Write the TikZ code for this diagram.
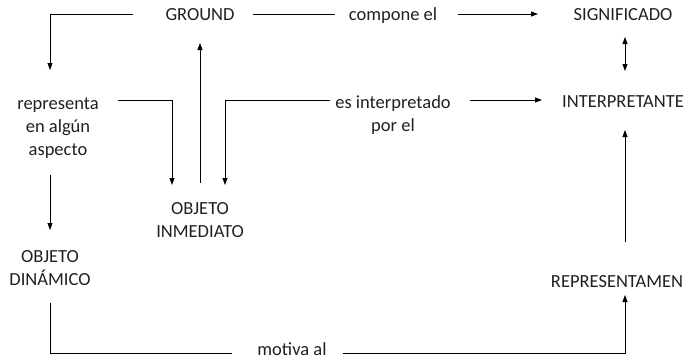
\documentclass[tikz,border=0pt]{standalone}
\usepackage{fontspec}
\setmainfont{Carlito}
\usetikzlibrary{arrows.meta}
\definecolor{txt}{HTML}{231F20}
\tikzset{
  lbl/.style={anchor=base, inner sep=0pt, text=txt, font=\fontsize{18.5}{23}\selectfont, align=center},
  conn/.style={line width=0.8pt, black},
  arr/.style={conn, -{Triangle[length=7pt,width=5pt]}},
  darr/.style={conn, {Triangle[length=7pt,width=5pt]}-{Triangle[length=7pt,width=5pt]}}
}
\begin{document}
\begin{tikzpicture}[x=1pt,y=-1pt]
\useasboundingbox (0,0) rectangle (696,359);
% nodes (multi-line nodes are placed by the baseline of their last line)
\node[lbl] (ground) at (200,20) {GROUND};
\node[lbl] (compone) at (393,20) {compone el};
\node[lbl] (signif) at (623,20) {SIGNIFICADO};
\node[lbl] (interp) at (623,107) {INTERPRETANTE};
\node[lbl] (esint) at (393,131) {es interpretado\\por el};
\node[lbl] (repres) at (58,155) {representa\\en algún\\aspecto};
\node[lbl] (inmed) at (200,237) {OBJETO\\INMEDIATO};
\node[lbl] (dinam) at (50,285) {OBJETO\\DINÁMICO};
\node[lbl] (remen) at (617,287) {REPRESENTAMEN};
\node[lbl] (motiva) at (292,355) {motiva al};
% coordinates
\coordinate (g1) at (133,14);
\coordinate (g2) at (50,70);
\coordinate (g3) at (253,14);
\coordinate (g4) at (335,14);
\coordinate (c1) at (458,14);
\coordinate (c2) at (538,14);
\coordinate (s1) at (625,37);
\coordinate (s2) at (625,71);
\coordinate (e1) at (470,100);
\coordinate (e2) at (542,100);
\coordinate (e3) at (330,100);
\coordinate (e4) at (225,185);
\coordinate (r1) at (625,242);
\coordinate (r2) at (625,130);
\coordinate (d1) at (50,303);
\coordinate (d2) at (232,353);
\coordinate (m1) at (343,353);
\coordinate (m2) at (625,295);
\coordinate (p1) at (118,100);
\coordinate (p2) at (172,185);
\coordinate (p3) at (50,175);
\coordinate (p4) at (50,230);
\coordinate (o1) at (200,183);
\coordinate (o2) at (200,43);
% connectors
\draw[arr] (g1) -| (g2);
\draw[conn] (g3) -- (g4);
\draw[arr] (c1) -- (c2);
\draw[darr] (s1) -- (s2);
\draw[arr] (e1) -- (e2);
\draw[arr] (e3) -| (e4);
\draw[arr] (r1) -- (r2);
\draw[conn] (d1) |- (d2);
\draw[arr] (m1) -| (m2);
\draw[arr] (p1) -| (p2);
\draw[arr] (p3) -- (p4);
\draw[arr] (o1) -- (o2);
\end{tikzpicture}
\end{document}
